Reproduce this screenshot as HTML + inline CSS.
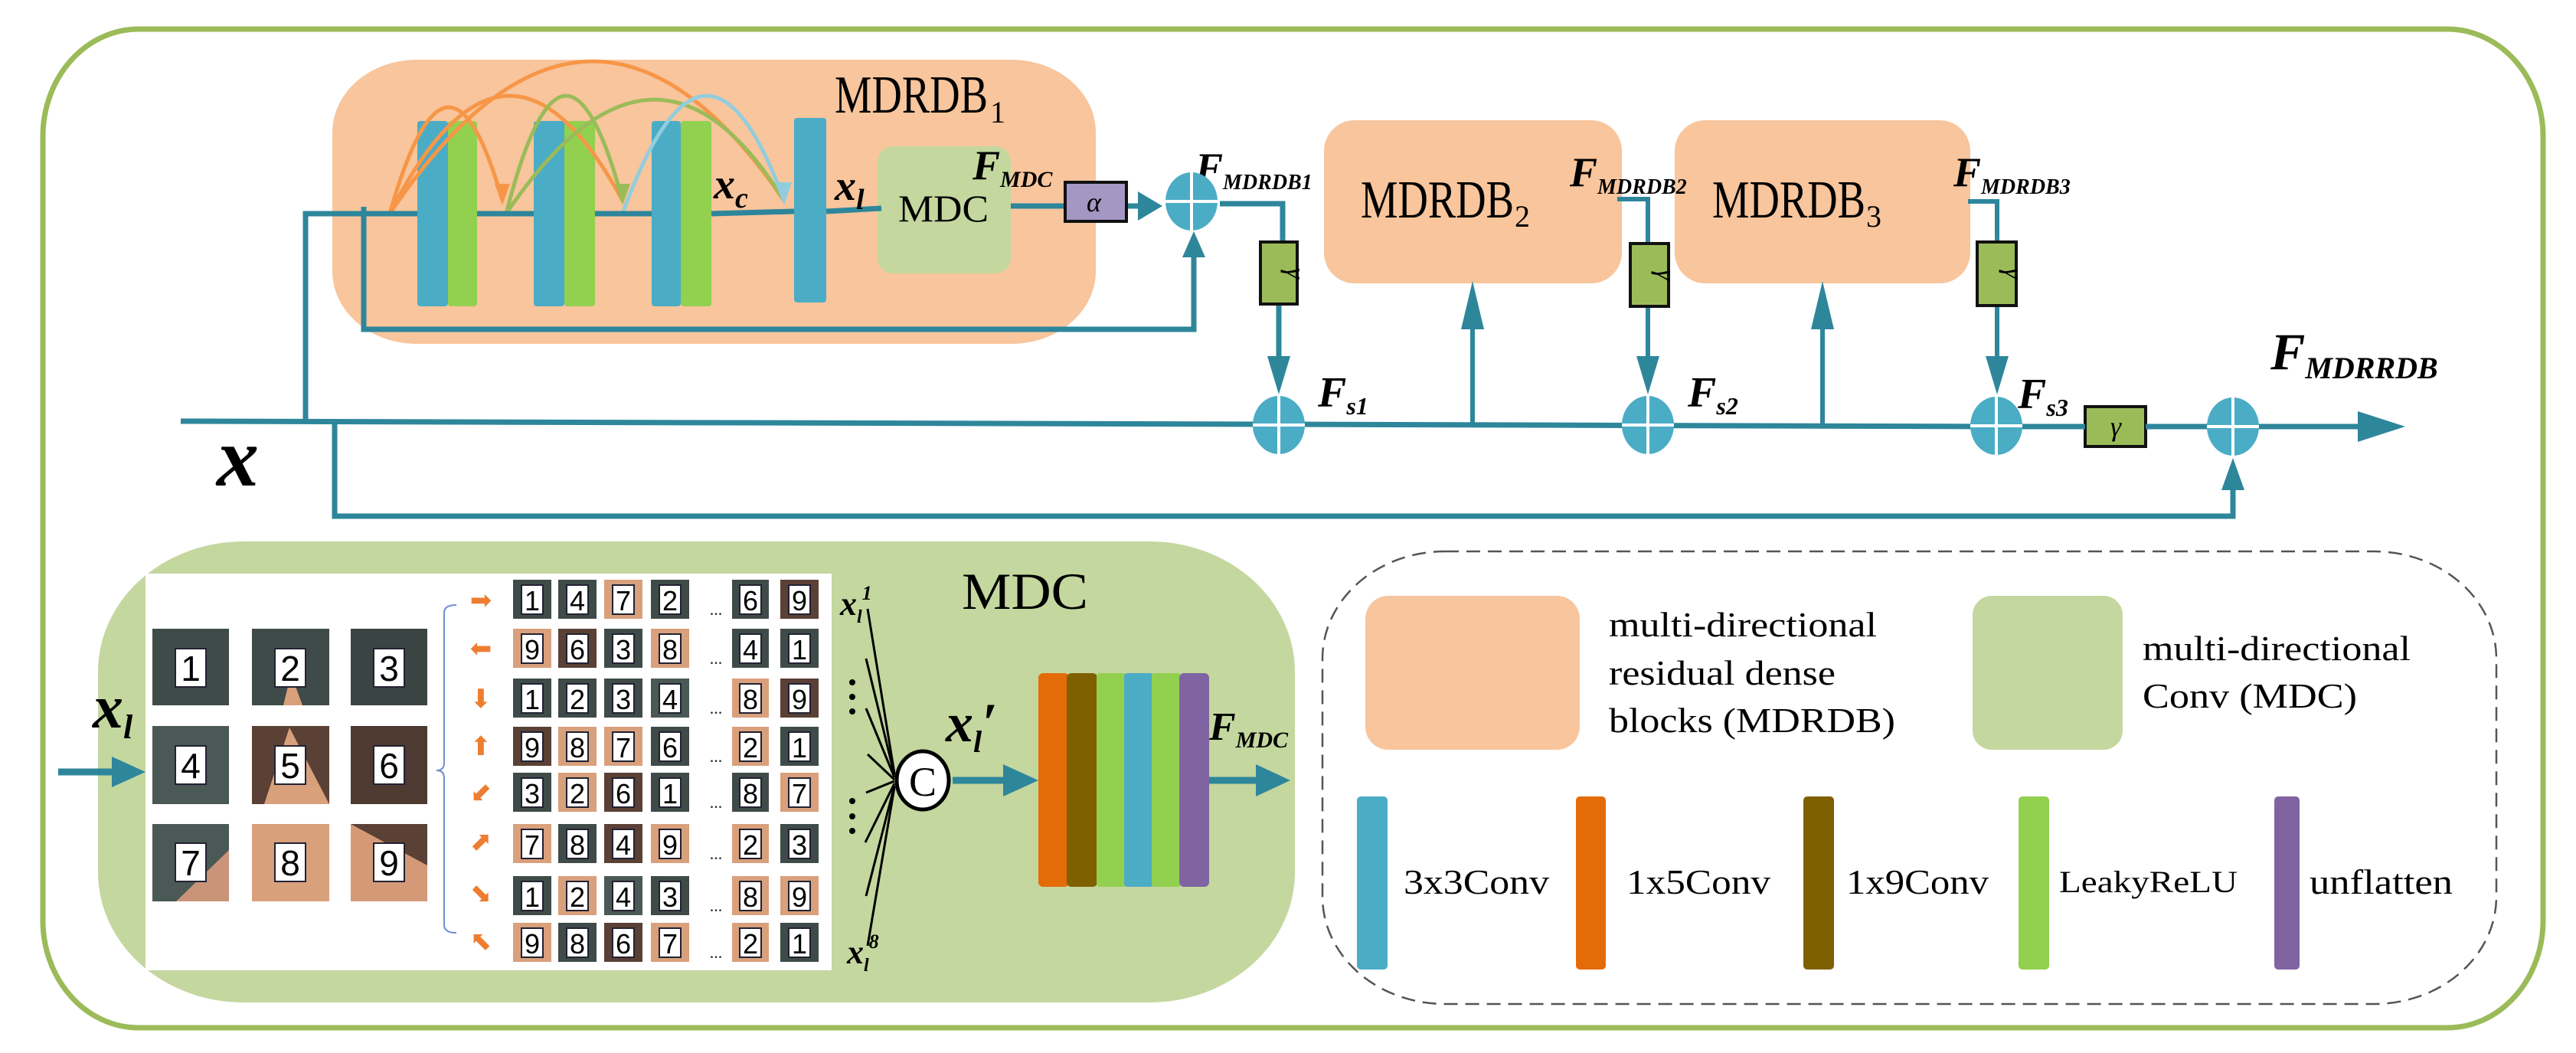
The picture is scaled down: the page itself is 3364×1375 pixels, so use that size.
<!DOCTYPE html>
<html><head><meta charset="utf-8"><style>html,body{margin:0;padding:0;background:#fff}svg{display:block}</style></head><body>
<svg width="3364" height="1375" viewBox="0 0 3364 1375" xmlns="http://www.w3.org/2000/svg" font-family="'Liberation Serif', serif">
<!-- outer border -->
<rect x="56" y="38" width="3265" height="1304" rx="125" ry="140" fill="none" stroke="#9BBB59" stroke-width="7"/>

<!-- MDRDB1 -->
<rect x="434" y="78" width="997" height="371" rx="110" ry="95" fill="#F8C59C"/>
<text x="1090" y="147" font-size="70" textLength="200" lengthAdjust="spacingAndGlyphs">MDRDB</text>
<text x="1293" y="160" font-size="40">1</text>
<rect x="545" y="158" width="40" height="242" rx="4" fill="#4BACC6"/>
<rect x="585" y="158" width="38" height="242" rx="4" fill="#92D050"/>
<rect x="697" y="158" width="40" height="242" rx="4" fill="#4BACC6"/>
<rect x="737" y="158" width="40" height="242" rx="4" fill="#92D050"/>
<rect x="851" y="158" width="38" height="242" rx="4" fill="#4BACC6"/>
<rect x="889" y="158" width="40" height="242" rx="4" fill="#92D050"/>
<rect x="1037" y="154" width="42" height="241" rx="4" fill="#4BACC6"/>
<rect x="1146" y="191" width="174" height="166" rx="20" fill="#C4D79F"/>
<text x="1173" y="289" font-size="50" textLength="118" lengthAdjust="spacingAndGlyphs">MDC</text>
<g fill="none" stroke-width="5">
<path d="M509,279 Q585,10 656,262" stroke="#F79646"/>
<path d="M509,279 Q661,-20 813,262" stroke="#F79646"/>
<path d="M509,279 Q770,-110 1024,262" stroke="#F79646"/>
<path d="M661,279 Q737,-20 813,262" stroke="#9BBB59"/>
<path d="M661,279 Q856,-10 1024,262" stroke="#9BBB59"/>
<path d="M813,279 Q921,-20 1024,262" stroke="#93CDDD"/>
</g>
<path d="M646,240 L666,240 L656,268 z" fill="#F79646"/>
<path d="M803,240 L823,240 L813,268 z" fill="#9BBB59"/>
<path d="M1012,238 L1034,238 L1024,268 z" fill="#93CDDD"/>
<g stroke="#2E869B" stroke-width="7" fill="none">
<path d="M399,550 L399,279 L545,279"/>
<path d="M623,279 L697,279"/>
<path d="M777,279 L851,279"/>
<path d="M929,279 L1037,276"/>
<path d="M1079,276 L1151,272"/>
<path d="M475,270 L475,430 L1559,430 L1559,330"/>
<path d="M1320,269 L1391,269"/>
<path d="M1471,269 L1490,269"/>
<path d="M1593,266 L1675,266 L1675,316"/>
<path d="M1670,397 L1670,470"/>
</g>
<path d="M1544,336 L1574,336 L1559,302 z" fill="#2E869B"/>
<path d="M1486,250 L1486,288 L1518,269 z" fill="#2E869B"/>
<path d="M1655,465 L1685,465 L1670,515 z" fill="#2E869B"/>
<text x="932" y="259" font-size="56" font-style="italic" font-weight="bold">x<tspan font-size="38" dy="12">c</tspan></text>
<text x="1090" y="261" font-size="56" font-style="italic" font-weight="bold">x<tspan font-size="38" dy="12">l</tspan></text>
<text x="1270" y="234" font-size="54" font-style="italic" font-weight="bold">F<tspan font-size="30" dy="10">MDC</tspan></text>
<rect x="1391" y="238" width="80" height="51" fill="#A597C4" stroke="#111" stroke-width="4"/>
<text x="1419" y="276" font-size="36" font-style="italic">α</text>
<text x="1561" y="237" font-size="54" font-style="italic" font-weight="bold">F<tspan font-size="28" dy="10">MDRDB1</tspan></text>

<!-- MDRDB2/3 -->
<rect x="1729" y="157" width="389" height="213" rx="40" fill="#F8C59C"/>
<text x="1777" y="284" font-size="70" textLength="200" lengthAdjust="spacingAndGlyphs">MDRDB</text>
<text x="1978" y="296" font-size="40">2</text>
<rect x="2187" y="157" width="386" height="213" rx="40" fill="#F8C59C"/>
<text x="2236" y="284" font-size="70" textLength="200" lengthAdjust="spacingAndGlyphs">MDRDB</text>
<text x="2437" y="296" font-size="40">3</text>
<text x="2050" y="243" font-size="54" font-style="italic" font-weight="bold">F<tspan font-size="28" dy="10">MDRDB2</tspan></text>
<text x="2551" y="243" font-size="54" font-style="italic" font-weight="bold">F<tspan font-size="28" dy="10">MDRDB3</tspan></text>
<g stroke="#2E869B" stroke-width="6" fill="none">
<path d="M2112,260 L2152,260 L2152,318"/>
<path d="M2152,400 L2152,470"/>
<path d="M2570,263 L2608,263 L2608,316"/>
<path d="M2608,399 L2608,470"/>
<path d="M1923,555 L1923,420"/>
<path d="M2380,555 L2380,420"/>
</g>
<path d="M2137,465 L2167,465 L2152,515 z" fill="#2E869B"/>
<path d="M2593,465 L2623,465 L2608,515 z" fill="#2E869B"/>
<path d="M1908,430 L1938,430 L1923,367 z" fill="#2E869B"/>
<path d="M2365,430 L2395,430 L2380,367 z" fill="#2E869B"/>
<g stroke="#111" stroke-width="4" fill="#9BBB59">
<rect x="1646" y="316" width="48" height="81"/>
<rect x="2129" y="318" width="50" height="82"/>
<rect x="2582" y="316" width="51" height="83"/>
<rect x="2723" y="531" width="79" height="52"/>
</g>
<g font-size="36" font-style="italic">
<text transform="translate(1680,357) rotate(90)" text-anchor="middle">γ</text>
<text transform="translate(2164,359) rotate(90)" text-anchor="middle">γ</text>
<text transform="translate(2618,357) rotate(90)" text-anchor="middle">γ</text>
<text x="2763" y="569" text-anchor="middle">γ</text>
</g>
<g stroke="#2E869B" stroke-width="7" fill="none">
<path d="M236,550 L1670,554 L2607,557 L2723,557"/>
<path d="M2802,557 L3085,557"/>
<path d="M437,550 L437,674 L2916,674 L2916,640"/>
</g>
<path d="M3079,537 L3079,577 L3141,557 z" fill="#2E869B"/>
<path d="M2901,640 L2931,640 L2916,598 z" fill="#2E869B"/>
<g>
<g transform="translate(1556,263)"><ellipse rx="34" ry="38" fill="#4BACC6"/><path d="M-34,0 H34 M0,-38 V38" stroke="#fff" stroke-width="4"/></g>
<g transform="translate(1670,555)"><ellipse rx="34" ry="38" fill="#4BACC6"/><path d="M-34,0 H34 M0,-38 V38" stroke="#fff" stroke-width="4"/></g>
<g transform="translate(2152,555)"><ellipse rx="34" ry="38" fill="#4BACC6"/><path d="M-34,0 H34 M0,-38 V38" stroke="#fff" stroke-width="4"/></g>
<g transform="translate(2607,556)"><ellipse rx="34" ry="38" fill="#4BACC6"/><path d="M-34,0 H34 M0,-38 V38" stroke="#fff" stroke-width="4"/></g>
<g transform="translate(2916,557)"><ellipse rx="34" ry="38" fill="#4BACC6"/><path d="M-34,0 H34 M0,-38 V38" stroke="#fff" stroke-width="4"/></g>
</g>
<text x="1721" y="531" font-size="56" font-style="italic" font-weight="bold">F<tspan font-size="32" dy="10">s1</tspan></text>
<text x="2204" y="531" font-size="56" font-style="italic" font-weight="bold">F<tspan font-size="32" dy="10">s2</tspan></text>
<text x="2635" y="533" font-size="56" font-style="italic" font-weight="bold">F<tspan font-size="32" dy="10">s3</tspan></text>
<text x="2965" y="482" font-size="68" font-style="italic" font-weight="bold">F<tspan font-size="40" dy="12">MDRRDB</tspan></text>
<text x="283" y="634" font-size="110" font-style="italic" font-weight="bold">x</text>

<!-- MDC bottom -->
<rect x="128" y="707" width="1563" height="602" rx="190" ry="170" fill="#C4D79F"/>
<rect x="190" y="749" width="896" height="518" fill="#fff"/>
<text x="1256" y="795" font-size="68" textLength="165" lengthAdjust="spacingAndGlyphs">MDC</text>
<g font-family="'Liberation Sans', sans-serif" font-size="46" text-anchor="middle">
<rect x="199" y="821" width="100" height="100" fill="#3f4b49"/><rect x="229" y="847" width="40" height="50" fill="#fff" stroke="#223" stroke-width="2"/><text x="249" y="889">1</text>
<rect x="329" y="821" width="101" height="100" fill="#3f4b49"/><path d="M370,921 L380,880 L395,921z" fill="#d9a07c"/><rect x="359" y="847" width="40" height="50" fill="#fff" stroke="#223" stroke-width="2"/><text x="379" y="889">2</text>
<rect x="458" y="821" width="100" height="100" fill="#3a4442"/><rect x="488" y="847" width="40" height="50" fill="#fff" stroke="#223" stroke-width="2"/><text x="508" y="889">3</text>
<rect x="199" y="948" width="100" height="102" fill="#4a5856"/><rect x="229" y="974" width="40" height="50" fill="#fff" stroke="#223" stroke-width="2"/><text x="249" y="1016">4</text>
<rect x="329" y="948" width="101" height="102" fill="#5a4035"/><path d="M345,1050 L378,950 L430,1050z" fill="#d9a07c"/><rect x="359" y="974" width="40" height="50" fill="#fff" stroke="#223" stroke-width="2"/><text x="379" y="1016">5</text>
<rect x="458" y="948" width="100" height="102" fill="#4e3a30"/><rect x="488" y="974" width="40" height="50" fill="#fff" stroke="#223" stroke-width="2"/><text x="508" y="1016">6</text>
<rect x="199" y="1076" width="100" height="101" fill="#4a5856"/><path d="M230,1177 L299,1110 L299,1177z" fill="#c99478"/><rect x="229" y="1101" width="40" height="50" fill="#fff" stroke="#223" stroke-width="2"/><text x="249" y="1143">7</text>
<rect x="329" y="1076" width="101" height="101" fill="#d9a07c"/><rect x="359" y="1101" width="40" height="50" fill="#fff" stroke="#223" stroke-width="2"/><text x="379" y="1143">8</text>
<rect x="458" y="1076" width="100" height="101" fill="#d49a78"/><path d="M458,1076 L558,1076 L558,1130z" fill="#5a4035"/><rect x="488" y="1101" width="40" height="50" fill="#fff" stroke="#223" stroke-width="2"/><text x="508" y="1143">9</text>
</g>
<path d="M596,790 Q580,790 580,800 L580,996 Q580,1006 570,1006 Q580,1006 580,1016 L580,1208 Q580,1218 596,1218" fill="none" stroke="#6f8fd0" stroke-width="2"/>
<g font-family="'DejaVu Sans', sans-serif" font-size="34" fill="#ED7D31" text-anchor="middle">
<text x="628" y="795">➡</text><text x="628" y="858">⬅</text><text x="628" y="924">⬇</text><text x="628" y="986">⬆</text>
<text x="628" y="1046">⬋</text><text x="628" y="1110">⬈</text><text x="628" y="1178">⬊</text><text x="628" y="1240">⬉</text>
</g>
<g font-family="'Liberation Sans', sans-serif" font-size="36" text-anchor="middle" stroke-width="2">
<rect x="670" y="757" width="50" height="51" fill="#3f4b49"/><rect x="681" y="764" width="28" height="38" fill="#fff" stroke="#223"/><text x="695" y="797">1</text>
<rect x="729" y="757" width="50" height="51" fill="#3f4b49"/><rect x="740" y="764" width="28" height="38" fill="#fff" stroke="#223"/><text x="754" y="797">4</text>
<rect x="789" y="757" width="50" height="51" fill="#d9a07c"/><rect x="800" y="764" width="28" height="38" fill="#fff" stroke="#223"/><text x="814" y="797">7</text>
<rect x="850" y="757" width="50" height="51" fill="#3f4b49"/><rect x="861" y="764" width="28" height="38" fill="#fff" stroke="#223"/><text x="875" y="797">2</text>
<rect x="956" y="757" width="48" height="51" fill="#3f4b49"/><rect x="966" y="764" width="28" height="38" fill="#fff" stroke="#223"/><text x="980" y="797">6</text>
<rect x="1019" y="757" width="50" height="51" fill="#5a4035"/><rect x="1030" y="764" width="28" height="38" fill="#fff" stroke="#223"/><text x="1044" y="797">9</text>
<rect x="670" y="821" width="50" height="51" fill="#d9a07c"/><rect x="681" y="828" width="28" height="38" fill="#fff" stroke="#223"/><text x="695" y="861">9</text>
<rect x="729" y="821" width="50" height="51" fill="#5a4035"/><rect x="740" y="828" width="28" height="38" fill="#fff" stroke="#223"/><text x="754" y="861">6</text>
<rect x="789" y="821" width="50" height="51" fill="#3f4b49"/><rect x="800" y="828" width="28" height="38" fill="#fff" stroke="#223"/><text x="814" y="861">3</text>
<rect x="850" y="821" width="50" height="51" fill="#d9a07c"/><rect x="861" y="828" width="28" height="38" fill="#fff" stroke="#223"/><text x="875" y="861">8</text>
<rect x="956" y="821" width="48" height="51" fill="#3f4b49"/><rect x="966" y="828" width="28" height="38" fill="#fff" stroke="#223"/><text x="980" y="861">4</text>
<rect x="1019" y="821" width="50" height="51" fill="#3f4b49"/><rect x="1030" y="828" width="28" height="38" fill="#fff" stroke="#223"/><text x="1044" y="861">1</text>
<rect x="670" y="886" width="50" height="51" fill="#3f4b49"/><rect x="681" y="893" width="28" height="38" fill="#fff" stroke="#223"/><text x="695" y="926">1</text>
<rect x="729" y="886" width="50" height="51" fill="#3f4b49"/><rect x="740" y="893" width="28" height="38" fill="#fff" stroke="#223"/><text x="754" y="926">2</text>
<rect x="789" y="886" width="50" height="51" fill="#3f4b49"/><rect x="800" y="893" width="28" height="38" fill="#fff" stroke="#223"/><text x="814" y="926">3</text>
<rect x="850" y="886" width="50" height="51" fill="#4a5856"/><rect x="861" y="893" width="28" height="38" fill="#fff" stroke="#223"/><text x="875" y="926">4</text>
<rect x="956" y="886" width="48" height="51" fill="#d9a07c"/><rect x="966" y="893" width="28" height="38" fill="#fff" stroke="#223"/><text x="980" y="926">8</text>
<rect x="1019" y="886" width="50" height="51" fill="#5a4035"/><rect x="1030" y="893" width="28" height="38" fill="#fff" stroke="#223"/><text x="1044" y="926">9</text>
<rect x="670" y="949" width="50" height="51" fill="#5a4035"/><rect x="681" y="956" width="28" height="38" fill="#fff" stroke="#223"/><text x="695" y="989">9</text>
<rect x="729" y="949" width="50" height="51" fill="#d9a07c"/><rect x="740" y="956" width="28" height="38" fill="#fff" stroke="#223"/><text x="754" y="989">8</text>
<rect x="789" y="949" width="50" height="51" fill="#d9a07c"/><rect x="800" y="956" width="28" height="38" fill="#fff" stroke="#223"/><text x="814" y="989">7</text>
<rect x="850" y="949" width="50" height="51" fill="#3f4b49"/><rect x="861" y="956" width="28" height="38" fill="#fff" stroke="#223"/><text x="875" y="989">6</text>
<rect x="956" y="949" width="48" height="51" fill="#d9a07c"/><rect x="966" y="956" width="28" height="38" fill="#fff" stroke="#223"/><text x="980" y="989">2</text>
<rect x="1019" y="949" width="50" height="51" fill="#3f4b49"/><rect x="1030" y="956" width="28" height="38" fill="#fff" stroke="#223"/><text x="1044" y="989">1</text>
<rect x="670" y="1009" width="50" height="51" fill="#3f4b49"/><rect x="681" y="1016" width="28" height="38" fill="#fff" stroke="#223"/><text x="695" y="1049">3</text>
<rect x="729" y="1009" width="50" height="51" fill="#d9a07c"/><rect x="740" y="1016" width="28" height="38" fill="#fff" stroke="#223"/><text x="754" y="1049">2</text>
<rect x="789" y="1009" width="50" height="51" fill="#5a4035"/><rect x="800" y="1016" width="28" height="38" fill="#fff" stroke="#223"/><text x="814" y="1049">6</text>
<rect x="850" y="1009" width="50" height="51" fill="#3f4b49"/><rect x="861" y="1016" width="28" height="38" fill="#fff" stroke="#223"/><text x="875" y="1049">1</text>
<rect x="956" y="1009" width="48" height="51" fill="#3f4b49"/><rect x="966" y="1016" width="28" height="38" fill="#fff" stroke="#223"/><text x="980" y="1049">8</text>
<rect x="1019" y="1009" width="50" height="51" fill="#d9a07c"/><rect x="1030" y="1016" width="28" height="38" fill="#fff" stroke="#223"/><text x="1044" y="1049">7</text>
<rect x="670" y="1076" width="50" height="51" fill="#d9a07c"/><rect x="681" y="1083" width="28" height="38" fill="#fff" stroke="#223"/><text x="695" y="1116">7</text>
<rect x="729" y="1076" width="50" height="51" fill="#3f4b49"/><rect x="740" y="1083" width="28" height="38" fill="#fff" stroke="#223"/><text x="754" y="1116">8</text>
<rect x="789" y="1076" width="50" height="51" fill="#5a4035"/><rect x="800" y="1083" width="28" height="38" fill="#fff" stroke="#223"/><text x="814" y="1116">4</text>
<rect x="850" y="1076" width="50" height="51" fill="#d9a07c"/><rect x="861" y="1083" width="28" height="38" fill="#fff" stroke="#223"/><text x="875" y="1116">9</text>
<rect x="956" y="1076" width="48" height="51" fill="#d9a07c"/><rect x="966" y="1083" width="28" height="38" fill="#fff" stroke="#223"/><text x="980" y="1116">2</text>
<rect x="1019" y="1076" width="50" height="51" fill="#3f4b49"/><rect x="1030" y="1083" width="28" height="38" fill="#fff" stroke="#223"/><text x="1044" y="1116">3</text>
<rect x="670" y="1144" width="50" height="51" fill="#3f4b49"/><rect x="681" y="1151" width="28" height="38" fill="#fff" stroke="#223"/><text x="695" y="1184">1</text>
<rect x="729" y="1144" width="50" height="51" fill="#d9a07c"/><rect x="740" y="1151" width="28" height="38" fill="#fff" stroke="#223"/><text x="754" y="1184">2</text>
<rect x="789" y="1144" width="50" height="51" fill="#4a5856"/><rect x="800" y="1151" width="28" height="38" fill="#fff" stroke="#223"/><text x="814" y="1184">4</text>
<rect x="850" y="1144" width="50" height="51" fill="#3f4b49"/><rect x="861" y="1151" width="28" height="38" fill="#fff" stroke="#223"/><text x="875" y="1184">3</text>
<rect x="956" y="1144" width="48" height="51" fill="#d9a07c"/><rect x="966" y="1151" width="28" height="38" fill="#fff" stroke="#223"/><text x="980" y="1184">8</text>
<rect x="1019" y="1144" width="50" height="51" fill="#d9a07c"/><rect x="1030" y="1151" width="28" height="38" fill="#fff" stroke="#223"/><text x="1044" y="1184">9</text>
<rect x="670" y="1205" width="50" height="51" fill="#d9a07c"/><rect x="681" y="1212" width="28" height="38" fill="#fff" stroke="#223"/><text x="695" y="1245">9</text>
<rect x="729" y="1205" width="50" height="51" fill="#3f4b49"/><rect x="740" y="1212" width="28" height="38" fill="#fff" stroke="#223"/><text x="754" y="1245">8</text>
<rect x="789" y="1205" width="50" height="51" fill="#5a4035"/><rect x="800" y="1212" width="28" height="38" fill="#fff" stroke="#223"/><text x="814" y="1245">6</text>
<rect x="850" y="1205" width="50" height="51" fill="#d9a07c"/><rect x="861" y="1212" width="28" height="38" fill="#fff" stroke="#223"/><text x="875" y="1245">7</text>
<rect x="956" y="1205" width="48" height="51" fill="#d9a07c"/><rect x="966" y="1212" width="28" height="38" fill="#fff" stroke="#223"/><text x="980" y="1245">2</text>
<rect x="1019" y="1205" width="50" height="51" fill="#3f4b49"/><rect x="1030" y="1212" width="28" height="38" fill="#fff" stroke="#223"/><text x="1044" y="1245">1</text>
</g>
<g font-size="22" fill="#222" text-anchor="middle">
<text x="935" y="803">...</text><text x="935" y="867">...</text><text x="935" y="932">...</text><text x="935" y="995">...</text>
<text x="935" y="1055">...</text><text x="935" y="1122">...</text><text x="935" y="1190">...</text><text x="935" y="1251">...</text>
</g>
<g stroke="#000" stroke-width="3">
<line x1="1133" y1="795" x2="1168" y2="1010"/>
<line x1="1131" y1="860" x2="1168" y2="1012"/>
<line x1="1131" y1="925" x2="1168" y2="1015"/>
<line x1="1133" y1="985" x2="1168" y2="1018"/>
<line x1="1131" y1="1035" x2="1168" y2="1020"/>
<line x1="1130" y1="1100" x2="1168" y2="1023"/>
<line x1="1131" y1="1170" x2="1168" y2="1026"/>
<line x1="1133" y1="1235" x2="1168" y2="1028"/>
</g>
<g fill="#000"><circle cx="1113" cy="891" r="4"/><circle cx="1113" cy="910" r="4"/><circle cx="1113" cy="929" r="4"/><circle cx="1113" cy="1046" r="4"/><circle cx="1113" cy="1066" r="4"/><circle cx="1113" cy="1085" r="4"/></g>
<ellipse cx="1205" cy="1019" rx="34" ry="38" fill="#fff" stroke="#000" stroke-width="5"/>
<text x="1205" y="1039" font-size="54" text-anchor="middle">C</text>
<text x="1097" y="803" font-size="44" font-style="italic" font-weight="bold">x<tspan font-size="24" dy="10">l</tspan><tspan font-size="26" dy="-30">1</tspan></text>
<text x="1106" y="1258" font-size="44" font-style="italic" font-weight="bold">x<tspan font-size="24" dy="10">l</tspan><tspan font-size="26" dy="-30">8</tspan></text>
<text x="1235" y="968" font-size="72" font-style="italic" font-weight="bold">x<tspan font-size="40" dy="14">l</tspan><tspan dy="-14">′</tspan></text>
<text x="121" y="950" font-size="80" font-style="italic" font-weight="bold">x<tspan font-size="44" dy="14">l</tspan></text>
<g stroke="#2E869B" stroke-width="9"><line x1="76" y1="1008" x2="150" y2="1008"/><line x1="1244" y1="1019" x2="1310" y2="1019"/><line x1="1579" y1="1019" x2="1640" y2="1019"/></g>
<path d="M146,988 L190,1008 L146,1028 z" fill="#2E869B"/>
<path d="M1310,998 L1356,1019 L1310,1040 z" fill="#2E869B"/>
<path d="M1640,998 L1685,1019 L1640,1040 z" fill="#2E869B"/>
<rect x="1356" y="879" width="40" height="279" rx="6" fill="#E36C09"/>
<rect x="1393" y="879" width="40" height="279" rx="6" fill="#7F6000"/>
<rect x="1432" y="879" width="38" height="279" rx="4" fill="#92D050"/>
<rect x="1468" y="879" width="38" height="279" rx="4" fill="#4BACC6"/>
<rect x="1504" y="879" width="38" height="279" rx="4" fill="#92D050"/>
<rect x="1540" y="879" width="39" height="279" rx="6" fill="#8064A2"/>
<text x="1579" y="966" font-size="52" font-style="italic" font-weight="bold">F<tspan font-size="30" dy="10">MDC</tspan></text>

<!-- legend -->
<rect x="1727" y="720" width="1533" height="591" rx="160" ry="140" fill="none" stroke="#555" stroke-width="2.5" stroke-dasharray="18,10"/>
<rect x="1783" y="778" width="280" height="201" rx="30" fill="#F8C59C"/>
<rect x="2576" y="778" width="196" height="201" rx="25" fill="#C4D79F"/>
<g font-size="46">
<text x="2101" y="831" textLength="350" lengthAdjust="spacingAndGlyphs">multi-directional</text>
<text x="2101" y="894" textLength="296" lengthAdjust="spacingAndGlyphs">residual dense</text>
<text x="2101" y="956" textLength="374" lengthAdjust="spacingAndGlyphs">blocks (MDRDB)</text>
<text x="2798" y="862" textLength="350" lengthAdjust="spacingAndGlyphs">multi-directional</text>
<text x="2798" y="924" textLength="280" lengthAdjust="spacingAndGlyphs">Conv (MDC)</text>
<text x="1833" y="1167" textLength="190" lengthAdjust="spacingAndGlyphs">3x3Conv</text>
<text x="2124" y="1167" textLength="188" lengthAdjust="spacingAndGlyphs">1x5Conv</text>
<text x="2411" y="1167" textLength="186" lengthAdjust="spacingAndGlyphs">1x9Conv</text>
<text x="2689" y="1165" font-size="40" textLength="233" lengthAdjust="spacingAndGlyphs">LeakyReLU</text>
<text x="3016" y="1167" textLength="187" lengthAdjust="spacingAndGlyphs">unflatten</text>
</g>
<rect x="1772" y="1040" width="40" height="226" rx="5" fill="#4BACC6"/>
<rect x="2058" y="1040" width="39" height="226" rx="5" fill="#E36C09"/>
<rect x="2355" y="1040" width="40" height="226" rx="5" fill="#7F6000"/>
<rect x="2636" y="1040" width="40" height="226" rx="5" fill="#92D050"/>
<rect x="2970" y="1040" width="33" height="226" rx="5" fill="#8064A2"/>
</svg>
</body></html>
